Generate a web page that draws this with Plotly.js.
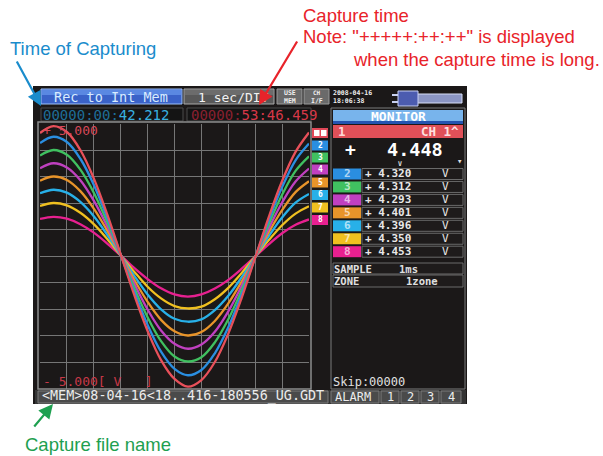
<!DOCTYPE html>
<html><head><meta charset="utf-8">
<script src="https://cdn.plot.ly/plotly-3.0.1.min.js"></script>
<style>html,body{margin:0;padding:0;background:#fff;}#chart{width:603px;height:456px;}</style>
</head><body><div id="chart"></div>
<script>
// ---- data ----
const TIME_S = [0,0.5,1,1.5,2,2.5,3,3.5,4,4.5,5,5.5,6,6.5,7,7.5,8,8.5,9,9.5,10];
const CH1_V = [4.64,4.90,4.68,4.00,2.93,1.57,0.06,-1.46,-2.83,-3.93,-4.64,-4.93,-4.68,-4.00,-2.93,-1.57,-0.06,1.46,2.83,3.93,4.66];
const CH2_V = [4.26,4.50,4.30,3.67,2.69,1.44,0.05,-1.34,-2.60,-3.61,-4.26,-4.50,-4.30,-3.67,-2.69,-1.44,-0.05,1.34,2.60,3.61,4.24];
const CH3_V = [3.79,4.00,3.82,3.26,2.39,1.28,0.05,-1.19,-2.31,-3.21,-3.79,-3.98,-3.82,-3.26,-2.39,-1.28,-0.05,1.19,2.31,3.21,3.76];
const CH4_V = [3.31,3.50,3.34,2.86,2.09,1.12,0.04,-1.04,-2.02,-2.81,-3.31,-3.50,-3.34,-2.86,-2.09,-1.12,-0.04,1.04,2.02,2.81,3.30];
const CH5_V = [2.84,3.00,2.87,2.45,1.79,0.96,0.04,-0.89,-1.73,-2.41,-2.84,-3.00,-2.87,-2.45,-1.79,-0.96,-0.04,0.89,1.73,2.41,2.82];
const CH6_V = [2.37,2.50,2.39,2.04,1.50,0.80,0.03,-0.74,-1.45,-2.01,-2.37,-2.48,-2.39,-2.04,-1.50,-0.80,-0.03,0.74,1.45,2.01,2.34];
const CH7_V = [1.89,2.00,1.91,1.63,1.20,0.64,0.02,-0.59,-1.16,-1.60,-1.89,-1.98,-1.91,-1.63,-1.20,-0.64,-0.02,0.59,1.16,1.60,1.88];
const CH8_V = [1.40,1.48,1.41,1.20,0.88,0.47,0.02,-0.45,-0.87,-1.22,-1.45,-1.53,-1.45,-1.23,-0.90,-0.48,-0.02,0.44,0.86,1.18,1.38];
const CHANNELS = ['1','2','3','4','5','6','7','8'];
const MONITOR_VALUES = ['4.448','4.320','4.312','4.293','4.401','4.396','4.350','4.453'];
const SCALE_TOP = '+ 5.000';
const SCALE_BOTTOM = '- 5.000[ V   ]';
const TIME_ELAPSED = ['00000:00:','42.212'];
const TIME_CAPTURE = ['00000:','53:46.459'];
const FILE_NAME = '<MEM>08-04-16<18..416-180556_UG.GDT';

// ---- styles ----
const SERIES = [CH1_V,CH2_V,CH3_V,CH4_V,CH5_V,CH6_V,CH7_V,CH8_V];
const COLORS = ['#e8505a','#2a8ee0','#40c060','#c040c0','#e8942a','#28b0e8','#f0c020','#e82090'];
const W=603,H=456;
const px=x=>x/W, py=y=>1-y/H;
const LCD='DejaVu Sans Mono, monospace';
const SANS='Liberation Sans, Arial, Helvetica, sans-serif';
const esc=s=>s.replace(/</g,'&lt;').replace(/>/g,'&gt;');

const shapes=[];
function rect(x0,y0,x1,y1,fill,line,lw,layer){
  shapes.push({type:'rect',xref:'paper',yref:'paper',x0:px(x0),x1:px(x1),y0:py(y1),y1:py(y0),
    fillcolor:fill||'rgba(0,0,0,0)',line:{color:line||'rgba(0,0,0,0)',width:line?(lw||1):0},layer:layer||'below'});
}
function seg(x0,y0,x1,y1,color,w){
  shapes.push({type:'line',xref:'paper',yref:'paper',x0:px(x0),x1:px(x1),y0:py(y0),y1:py(y1),line:{color:color,width:w||1},layer:'below'});
}
const ann=[];
function txt(x,y,text,size,color,anchor,family,weight){
  ann.push({xref:'paper',yref:'paper',x:px(x),y:py(y),text:text,showarrow:false,
    xanchor:anchor||'left',yanchor:'middle',borderpad:0,
    font:{family:family||LCD,size:size,color:color,weight:weight||'normal'}});
}
function arrow(tx,ty,sx,sy,color){
  ann.push({xref:'paper',yref:'paper',x:px(tx),y:py(ty),ax:sx-tx,ay:sy-ty,text:'',showarrow:true,
    arrowhead:2,arrowsize:1.3,arrowwidth:2.2,arrowcolor:color,standoff:0});
}

// bezel
rect(33,86,467,404,'#1b1818');
// top buttons
rect(41,89,182,104,'#3a62c8','#9cc0f8',1);
rect(42,90,181,95,'#5a88e2');
txt(111,97,'Rec to Int Mem',13.5,'#d8ecff','center');
rect(184,89,274,104,'#585858','#a8a8a8',1);
rect(185,90,273,95,'#6c6c6c');
txt(233,97,'1 sec/DIV',13,'#f2f2f2','center');
rect(277,89,302,104,'#6a6a6a','#9a9a9a',1);
txt(289.5,92.5,'USE',6.5,'#f0f0f0','center',LCD,'bold');
txt(289.5,100.5,'MEM',6.5,'#f0f0f0','center',LCD,'bold');
rect(304,89,329,104,'#6a6a6a','#9a9a9a',1);
txt(316.5,92.5,'CH',6,'#f0f0f0','center',LCD,'bold');
txt(316.5,100.5,'I/F',6.5,'#f0f0f0','center',LCD,'bold');
txt(332,92.5,'2008-04-16',6.5,'#f0f0f0','left',LCD,'bold');
txt(332,100.5,'18:06:38',6.5,'#f0f0f0','left',LCD,'bold');
seg(392,95,400,95,'#c8d0f0',2);
seg(392,102,400,102,'#c8d0f0',2);
rect(401,94,462,103,'#8c96c4','#d8def6',1);
rect(398,91,418,106,'#4c5cb0','#c8d0f4',1);
// time rows
rect(41,108,183,121,'#141414','#4a4a4a',1);
ann.push({xref:'paper',yref:'paper',x:px(42),y:py(114.5),xanchor:'left',yanchor:'middle',showarrow:false,borderpad:0,
  text:'<span style="color:#1f6e98">'+TIME_ELAPSED[0]+'</span><span style="color:#38b0e0">'+TIME_ELAPSED[1]+'</span>',
  font:{family:LCD,size:14,color:'#38b0e0'}});
rect(187,108,311,121,'#141414','#4a4a4a',1);
ann.push({xref:'paper',yref:'paper',x:px(190),y:py(114.5),xanchor:'left',yanchor:'middle',showarrow:false,borderpad:0,
  text:'<span style="color:#8a2030">'+TIME_CAPTURE[0]+'</span><span style="color:#d83848">'+TIME_CAPTURE[1]+'</span>',
  font:{family:LCD,size:14,color:'#d83848'}});
// plot frame
rect(38,122,311,389,null,'#8c8c8c',1.5,'above');
// scale labels
txt(42,131,SCALE_TOP,13,'#d84858');
txt(42,381,SCALE_BOTTOM,13,'#c83848');
// channel markers
rect(312,128,328,138,'#e04858');
rect(314,130,319.5,136,'#ffffff');
rect(321,130,326.5,136,'#ffffff');
const MARK_Y=[133,145.5,157.5,169.5,182.5,195,207.5,220];
for(let i=1;i<8;i++){
  rect(312,MARK_Y[i]-5,328,MARK_Y[i]+5,COLORS[i]);
  txt(320,MARK_Y[i],CHANNELS[i],8,'#ffffff','center',LCD,'bold');
}
// right panel
rect(331,108,465,389,null,'#7a7a7a',1);
rect(333,110,463,124,'#78b4ec');
rect(333,121,463,124,'#2454b0');
txt(398,116.5,'MONITOR',13,'#ffffff','center',LCD,'bold');
rect(333,125,463,138,'#e05058');
txt(337,131.5,CHANNELS[0],12.5,'#ffd8d8','left',LCD,'bold');
txt(460,131.5,'CH '+CHANNELS[0]+'^',12.5,'#ffe0e0','right',LCD,'bold');
txt(350,149.5,'+',18,'#ffffff','center',LCD,'bold');
txt(415,149.5,MONITOR_VALUES[0],18.5,'#ffffff','center',LCD,'bold');
txt(400,164,'V',6.5,'#e0e0e0','center',LCD,'bold');
txt(459,161,'▾',9,'#e0e0e0','center',LCD);
for(let i=1;i<8;i++){
  const y0=168.5+(i-1)*12.95, y1=y0+11;
  rect(333,y0,361,y1,COLORS[i]);
  rect(362,y0,463,y1,'#1e1b1b','#6a6a6a',1);
  txt(347,(y0+y1)/2,CHANNELS[i],11,'rgba(255,255,255,0.65)','center',LCD,'bold');
  txt(364,(y0+y1)/2,'+ '+MONITOR_VALUES[i],11,'#e8e8e8','left',LCD,'bold');
  txt(445,(y0+y1)/2,'V',11,'#e8e8e8','center',LCD);
}
rect(333,263,463,274,'#1e1b1b','#6a6a6a',1);
rect(333,275,463,287,'#1e1b1b','#6a6a6a',1);
txt(333,268.5,'SAMPLE',10.5,'#e0e0e0','left',LCD,'bold');
txt(398,268.5,'1ms',10.5,'#e0e0e0','left',LCD,'bold');
txt(333,281,'ZONE',10.5,'#e0e0e0','left',LCD,'bold');
txt(405,281,'1zone',10.5,'#e0e0e0','left',LCD,'bold');
txt(332,381.5,'Skip:00000',12,'#e0e0e0','left',LCD);
// bottom bar
rect(35,390,466,404,'#343434');
rect(38,391,328,403,'#4a4a4a','#7a7a7a',1);
txt(41,395.5,esc(FILE_NAME),13.4,'#ececec','left',LCD);
rect(331,391,379,403,'#4a4a4a','#7a7a7a',1);
txt(334,397,'ALARM',12,'#ececec','left',LCD);
const AL=[['1',381,399],['2',401,419],['3',421,439],['4',441,461]];
AL.forEach(a=>{rect(a[1],391,a[2],403,'#4a4a4a','#7a7a7a',1);txt((a[1]+a[2])/2,397,a[0],12,'#ececec','center');});

// callouts
txt(9,48,'Time of Capturing',18.5,'#1a8ccc','left',SANS);
arrow(41,106,16,60,'#1a8ccc');
txt(302,15,'Capture time',18.5,'#e8232a','left',SANS);
txt(302,37,'Note: "+++++:++:++" is displayed',18.5,'#e8232a','left',SANS);
txt(601,59,'when the capture time is long.',18.5,'#e8232a','right',SANS);
arrow(259,105,298,40,'#e8232a');
txt(24,444,'Capture file name',18.5,'#1ea050','left',SANS);
arrow(53,404,33,428,'#1ea050');

// traces (ch1 drawn last, on top)
const traces=[];
for(let i=7;i>=0;i--){
  traces.push({x:TIME_S,y:SERIES[i],type:'scatter',mode:'lines',name:'CH'+CHANNELS[i],
    line:{color:COLORS[i],width:2.3,shape:'spline',smoothing:1},hoverinfo:'skip'});
}
const layout={width:W,height:H,margin:{l:0,r:0,t:0,b:0},paper_bgcolor:'#ffffff',plot_bgcolor:'#1b1818',
  showlegend:false,
  xaxis:{domain:[px(40),px(309)],range:[0,10],dtick:1,showgrid:true,gridcolor:'#767676',gridwidth:1,
    zeroline:false,showticklabels:false,ticks:'',showline:false,fixedrange:true},
  yaxis:{domain:[py(388.5),py(123.5)],range:[-5,5],dtick:1,showgrid:true,gridcolor:'#767676',gridwidth:1,
    zeroline:false,showticklabels:false,ticks:'',showline:false,fixedrange:true},
  shapes:shapes,annotations:ann};
Plotly.newPlot('chart',traces,layout,{displayModeBar:false,staticPlot:true});
</script></body></html>
